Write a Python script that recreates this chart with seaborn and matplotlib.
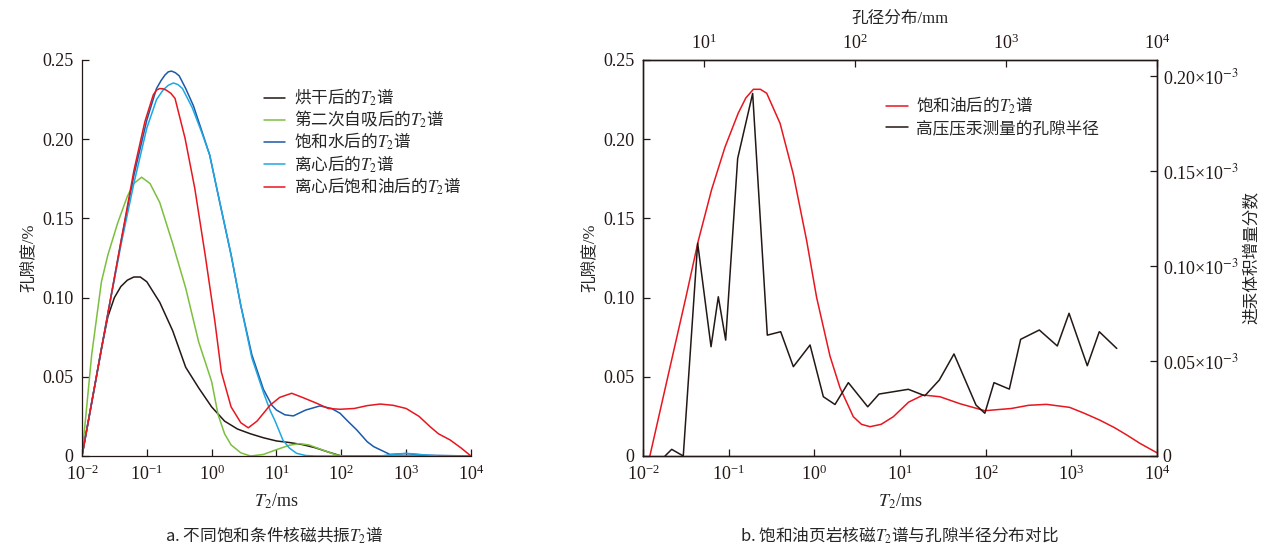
import numpy as np
import seaborn as sns
import matplotlib
matplotlib.use("Agg")
import matplotlib.pyplot as plt
from matplotlib.font_manager import FontProperties
from matplotlib.ticker import FixedLocator, FuncFormatter, NullLocator, LogFormatterMathtext

sns.set_theme(style="ticks")
plt.rcParams['font.family'] = ['Liberation Serif', 'Noto Sans CJK SC']
plt.rcParams['mathtext.fontset'] = 'stix'

# ---- panel a: T2 spectra, x given as log10(T2/ms) ----
dry_lg = [-2.0, -1.8, -1.7, -1.6, -1.5, -1.4, -1.3, -1.2, -1.1, -1.0, -0.8, -0.6, -0.4, -0.2,
          0.0, 0.2, 0.4, 0.6, 0.8, 1.0, 1.2, 1.4, 1.6, 1.8, 2.0, 3.0, 4.0]
dry_val = [0.0, 0.045, 0.068, 0.088, 0.100, 0.107, 0.111, 0.113, 0.113, 0.110, 0.097, 0.079,
           0.056, 0.043, 0.031, 0.022, 0.017, 0.014, 0.0115, 0.0095, 0.0085, 0.0072, 0.0052,
           0.0025, 0.0, 0.0, 0.0]

imb_lg = [-2.0, -1.85, -1.7, -1.6, -1.45, -1.3, -1.2, -1.08, -0.95, -0.8, -0.6, -0.4, -0.2,
          0.0, 0.1, 0.2, 0.3, 0.45, 0.6, 0.8, 1.0, 1.2, 1.35, 1.5, 1.7, 1.9, 2.0, 3.0, 4.0]
imb_val = [0.0, 0.064, 0.110, 0.127, 0.147, 0.164, 0.172, 0.176, 0.172, 0.160, 0.134, 0.106,
           0.072, 0.047, 0.026, 0.014, 0.007, 0.002, 0.0, 0.001, 0.004, 0.0068, 0.0078, 0.007,
           0.004, 0.001, 0.0, 0.0, 0.0]

wat_lg = [-2.0, -1.8, -1.6, -1.4, -1.2, -1.0, -0.85, -0.78, -0.72, -0.67, -0.62, -0.56, -0.5,
          -0.4, -0.28, -0.15, -0.03, 0.1, 0.3, 0.45, 0.62, 0.8, 0.93, 1.0, 1.13, 1.26, 1.45,
          1.67, 1.85, 1.98, 2.1, 2.24, 2.4, 2.5, 2.75, 3.0, 3.3, 4.0]
wat_val = [0.0, 0.045, 0.090, 0.135, 0.177, 0.212, 0.232, 0.237, 0.2405, 0.2425, 0.243, 0.242,
           0.240, 0.232, 0.221, 0.205, 0.190, 0.165, 0.127, 0.095, 0.064, 0.042, 0.032, 0.029,
           0.026, 0.0253, 0.029, 0.0316, 0.030, 0.027, 0.022, 0.0164, 0.009, 0.0059, 0.001,
           0.0015, 0.0005, 0.0]

cen_lg = [-2.0, -1.8, -1.6, -1.4, -1.2, -1.0, -0.85, -0.75, -0.67, -0.59, -0.52, -0.45, -0.3,
          -0.15, -0.03, 0.1, 0.3, 0.45, 0.62, 0.8, 0.9, 0.98, 1.1, 1.2, 1.31, 1.45, 1.6, 2.6,
          2.8, 3.0, 3.2, 3.5, 4.0]
cen_val = [0.0, 0.045, 0.090, 0.133, 0.172, 0.207, 0.225, 0.231, 0.234, 0.2355, 0.2345, 0.232,
           0.220, 0.204, 0.190, 0.165, 0.127, 0.095, 0.062, 0.040, 0.029, 0.022, 0.010, 0.005,
           0.0017, 0.0003, 0.0, 0.0, 0.001, 0.0017, 0.001, 0.0, 0.0]

oil_lg = [-2.0, -1.8, -1.6, -1.4, -1.2, -1.03, -0.9, -0.85, -0.8, -0.75, -0.7, -0.63, -0.565,
          -0.41, -0.26, -0.1, 0.05, 0.15, 0.3, 0.45, 0.565, 0.7, 0.9, 1.05, 1.235, 1.4, 1.62,
          1.8, 1.98, 2.2, 2.4, 2.6, 2.8, 3.0, 3.2, 3.37, 3.5, 3.68, 3.85, 4.0]
oil_val = [0.0, 0.045, 0.090, 0.135, 0.180, 0.211, 0.228, 0.231, 0.232, 0.2318, 0.231, 0.229,
           0.2258, 0.2006, 0.169, 0.127, 0.085, 0.053, 0.031, 0.021, 0.0178, 0.022, 0.032,
           0.037, 0.0396, 0.037, 0.0333, 0.030, 0.0295, 0.030, 0.0318, 0.0328, 0.032, 0.030,
           0.025, 0.0185, 0.014, 0.0101, 0.005, 0.0]

names_a = ['烘干后的$T_2$谱', '第二次自吸后的$T_2$谱', '饱和水后的$T_2$谱',
           '离心后的$T_2$谱', '离心后饱和油后的$T_2$谱']
colors_a = ['#231815', '#7cbf3f', '#1c59a8', '#1fa7e2', '#e8161e']

# ---- panel b ----
sat_lg = [-1.92, -1.7, -1.5, -1.354, -1.2, -1.043, -0.888, -0.8, -0.712, -0.63, -0.556, -0.40,
          -0.246, -0.09, 0.027, 0.183, 0.30, 0.455, 0.55, 0.65, 0.78, 0.922, 1.1, 1.27, 1.467,
          1.7, 1.99, 2.3, 2.5, 2.71, 2.98, 3.15, 3.33, 3.5, 3.646, 3.8, 4.0]
sat_val = [0.0, 0.0525, 0.100, 0.136, 0.168, 0.195, 0.2165, 0.226, 0.2315, 0.2315, 0.229, 0.210,
           0.178, 0.136, 0.100, 0.063, 0.043, 0.0248, 0.020, 0.0185, 0.020, 0.0248, 0.034,
           0.0385, 0.0374, 0.033, 0.0286, 0.030, 0.032, 0.0326, 0.0307, 0.027, 0.0227, 0.018,
           0.0133, 0.008, 0.002]

hg_lg = [-1.743, -1.665, -1.53, -1.362, -1.206, -1.121, -1.035, -0.895, -0.72, -0.549, -0.393,
         -0.245, -0.05, 0.105, 0.241, 0.397, 0.623, 0.755, 1.097, 1.29, 1.459, 1.63, 1.887, 1.99,
         2.097, 2.276, 2.408, 2.626, 2.836, 2.973, 3.186, 3.326, 3.53]
hg_val = [0.0, 0.0035, 0.0, 0.112, 0.0575, 0.0838, 0.061, 0.1566, 0.1908, 0.0636, 0.0654, 0.047,
          0.0584, 0.0312, 0.0271, 0.0386, 0.0259, 0.0326, 0.0351, 0.0317, 0.040, 0.0537, 0.0268,
          0.0225, 0.0386, 0.0352, 0.0614, 0.0663, 0.0579, 0.0751, 0.0475, 0.0654, 0.0566]

names_b = ['饱和油后的$T_2$谱', '高压压汞测量的孔隙半径']

y_ticks = [0, 0.05, 0.10, 0.15, 0.20, 0.25]
r_ticks = [0, 0.05, 0.10, 0.15, 0.20]
x_ticks = [1e-2, 1e-1, 1e0, 1e1, 1e2, 1e3, 1e4]
top_ticks = [1e1, 1e2, 1e3, 1e4]

fs = 13
lw = 1.1
ink = '#231815'
# strings mixing CJK and mathtext need a CJK font as their base font
cjk = FontProperties(family='Noto Sans CJK SC', size=12)


def fmt_y(v, pos):
    return '0' if v == 0 else '%.2f' % v


def fmt_r(v, pos):
    return '0' if v == 0 else '%.2f×10$^{-3}$' % v


def style_axis(ax):
    ax.set_xscale('log')
    ax.set_xlim(1e-2, 1e4)
    ax.set_ylim(0, 0.25)
    ax.xaxis.set_major_locator(FixedLocator(x_ticks))
    ax.xaxis.set_major_formatter(LogFormatterMathtext())
    ax.xaxis.set_minor_locator(NullLocator())
    ax.yaxis.set_major_locator(FixedLocator(y_ticks))
    ax.yaxis.set_major_formatter(FuncFormatter(fmt_y))
    ax.tick_params(direction='in', length=5, width=0.9, labelsize=fs, pad=6, colors=ink)
    for s in ax.spines.values():
        s.set_linewidth(0.9)
        s.set_color(ink)
    ax.set_xlabel('$T_2$/ms', fontsize=fs, labelpad=6)
    ax.set_ylabel('孔隙度/%', fontsize=12, labelpad=4)


fig = plt.figure(figsize=(12.67, 5.54), dpi=100)
ax1 = fig.add_axes([0.0647, 0.1769, 0.307, 0.7148])
ax2 = fig.add_axes([0.5075, 0.1769, 0.4057, 0.7148])

for lg, val, name, c in zip([dry_lg, imb_lg, wat_lg, cen_lg, oil_lg],
                            [dry_val, imb_val, wat_val, cen_val, oil_val],
                            names_a, colors_a):
    sns.lineplot(x=np.power(10.0, lg), y=val, ax=ax1, color=c, lw=lw, label=name,
                 sort=False, estimator=None)

style_axis(ax1)
sns.despine(ax=ax1)
ax1.legend(loc='upper left', bbox_to_anchor=(0.45, 0.95), frameon=False, prop=cjk,
           handlelength=1.3, handletextpad=0.5, labelspacing=0.05, borderaxespad=0)

# panel b
sns.lineplot(x=np.power(10.0, sat_lg), y=sat_val, ax=ax2, color='#e8161e', lw=lw,
             label=names_b[0], sort=False, estimator=None, legend=False)
style_axis(ax2)

ax2r = ax2.twinx()
sns.lineplot(x=np.power(10.0, hg_lg), y=hg_val, ax=ax2r, color=ink, lw=lw,
             label=names_b[1], sort=False, estimator=None, legend=False)
ax2r.set_ylim(0, 0.2084)
ax2r.yaxis.set_major_locator(FixedLocator(r_ticks))
ax2r.yaxis.set_major_formatter(FuncFormatter(fmt_r))
ax2r.tick_params(direction='in', length=5, width=0.9, labelsize=fs, pad=4, colors=ink)
ax2r.set_ylabel('进汞体积增量分数', fontsize=12, labelpad=4)

ax2t = ax2.twiny()
ax2t.set_xscale('log')
ax2t.set_xlim(3.94, 1e4)
ax2t.xaxis.set_major_locator(FixedLocator(top_ticks))
ax2t.xaxis.set_major_formatter(LogFormatterMathtext())
ax2t.xaxis.set_minor_locator(NullLocator())
ax2t.tick_params(direction='in', length=5, width=0.9, labelsize=fs, pad=5, colors=ink)
ax2t.set_xlabel('孔径分布/mm', fontsize=12, labelpad=8)

for a in (ax2r, ax2t):
    for s in a.spines.values():
        s.set_linewidth(0.9)
        s.set_color(ink)

h1, l1 = ax2.get_legend_handles_labels()
h2, l2 = ax2r.get_legend_handles_labels()
ax2t.legend(h1 + h2, l1 + l2, loc='upper left', bbox_to_anchor=(0.46, 0.93), frameon=False,
            prop=cjk, handlelength=1.3, handletextpad=0.5, labelspacing=0.25,
            borderaxespad=0)

fig.text(0.216, 0.022, 'a. 不同饱和条件核磁共振$T_2$谱', ha='center', fontproperties=cjk)
fig.text(0.71, 0.022, 'b. 饱和油页岩核磁$T_2$谱与孔隙半径分布对比', ha='center',
         fontproperties=cjk)

fig.savefig('out.png', dpi=100)
